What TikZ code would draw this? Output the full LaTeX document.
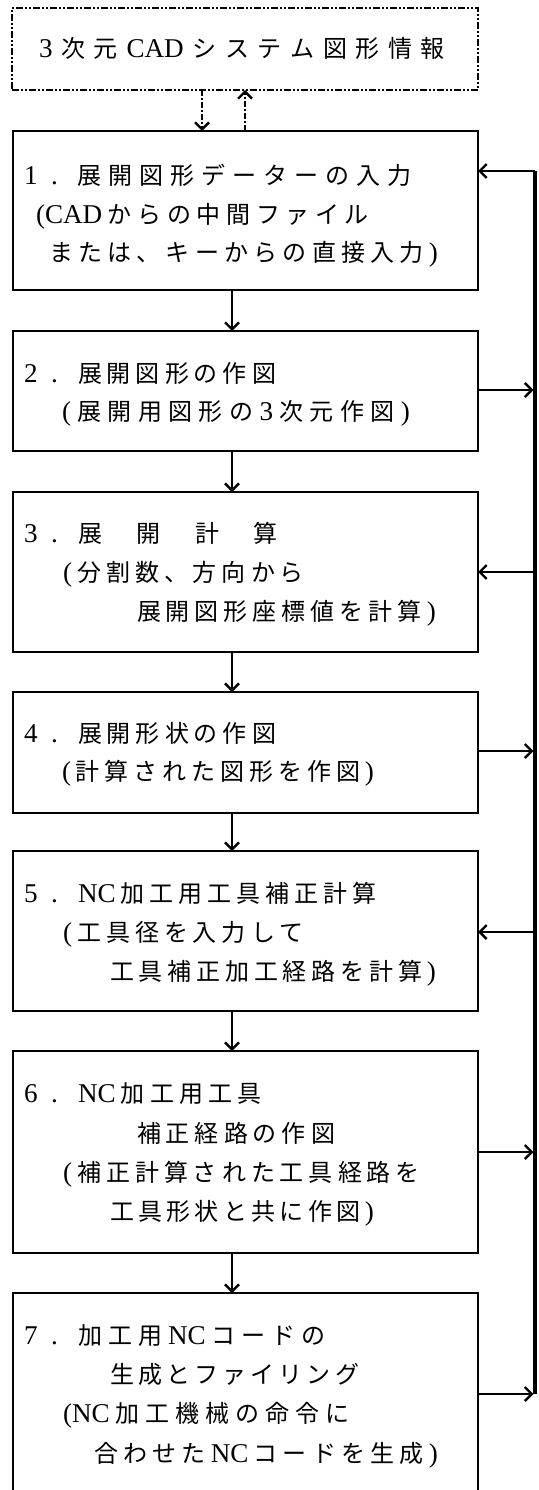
\documentclass[tikz,border=0pt]{standalone}
\usepackage{fontspec}
\setmainfont{Noto Sans CJK JP}
\newfontfamily\latf[Scale=1.13]{Liberation Serif}
\usetikzlibrary{arrows.meta}
\let\spreadend\relax
\def\spreadstop{\spreadend}
\def\spreadA#1{\def\spreadtmp{#1}\ifx\spreadtmp\spreadstop\else{#1}\hfil\expandafter\spreadA\fi}
\newcommand\spreadto[2]{\hbox to #1{\spreadA#2\spreadend\unskip}}
\tikzset{
 pbox/.style={draw, line width=2.8pt, inner sep=0pt, outer sep=0pt, anchor=north west, minimum width=465pt},
 dbox/.style={draw, line width=2.2pt, dash pattern=on 7pt off 2pt on 2pt off 2pt on 2pt off 2pt, inner sep=0pt, outer sep=0pt, anchor=north west},
 txt/.style={inner sep=0pt, outer sep=0pt, anchor=base west, font=\fontsize{24pt}{28pt}\selectfont},
 arr/.style={line width=2.4pt, -{Straight Barb[length=7pt,width=14pt]}},
 darr/.style={arr, dash pattern=on 6pt off 2pt on 2pt off 2pt},
 bus/.style={line width=3.2pt},
}
\begin{document}
\begin{tikzpicture}[x=1pt,y=-1pt]
\useasboundingbox (0,0) rectangle (538,1490);
% boxes
\node[dbox, minimum width=466pt, minimum height=82pt] (cad) at (12,8) {};
\node[pbox, minimum height=159pt] (b1) at (13,131) {};
\node[pbox, minimum height=120pt] (b2) at (13,331) {};
\node[pbox, minimum height=160pt] (b3) at (13,492) {};
\node[pbox, minimum height=121pt] (b4) at (13,692) {};
\node[pbox, minimum height=160pt] (b5) at (13,851) {};
\node[pbox, minimum height=202pt] (b6) at (13,1051) {};
\node[pbox, minimum height=212pt] (b7) at (13,1293) {};
% texts
\node[txt] (t0) at (39,58) {\spreadto{406pt}{{\latf 3}次元{\latf CAD}システム図形情報}};
\node[txt] (n1) at (24,185) {\spreadto{34pt}{{\latf 1}{\latf .}}};
\node[txt] (t11) at (77,185) {\spreadto{335pt}{展開図形データーの入力}};
\node[txt] (t12) at (36,223) {\spreadto{333pt}{{\latf (CAD}からの中間ファイル}};
\node[txt] (t13) at (49,261) {\spreadto{389pt}{または、キーからの直接入力{\latf )}}};
\node[txt] (n2) at (24,382) {\spreadto{34pt}{{\latf 2}{\latf .}}};
\node[txt] (t21) at (78,382) {\spreadto{198pt}{展開図形の作図}};
\node[txt] (t22) at (62,420) {\spreadto{348pt}{{\latf (}展開用図形の{\latf 3}次元作図{\latf )}}};
\node[txt] (n3) at (24,542) {\spreadto{34pt}{{\latf 3}{\latf .}}};
\node[txt] (t31) at (78,542) {\spreadto{200pt}{展開計算}};
\node[txt] (t32) at (63,581) {\spreadto{241pt}{{\latf (}分割数、方向から}};
\node[txt] (t33) at (137,620) {\spreadto{299pt}{展開図形座標値を計算{\latf )}}};
\node[txt] (n4) at (24,742) {\spreadto{34pt}{{\latf 4}{\latf .}}};
\node[txt] (t41) at (78,742) {\spreadto{198pt}{展開形状の作図}};
\node[txt] (t42) at (62,780) {\spreadto{312pt}{{\latf (}計算された図形を作図{\latf )}}};
\node[txt] (n5) at (24,902) {\spreadto{34pt}{{\latf 5}{\latf .}}};
\node[txt] (t51) at (78,902) {\spreadto{299pt}{{\latf NC}加工用工具補正計算}};
\node[txt] (t52) at (63,941) {\spreadto{241pt}{{\latf (}工具径を入力して}};
\node[txt] (t53) at (110,980) {\spreadto{326pt}{工具補正加工経路を計算{\latf )}}};
\node[txt] (n6) at (24,1102) {\spreadto{34pt}{{\latf 6}{\latf .}}};
\node[txt] (t61) at (78,1102) {\spreadto{184pt}{{\latf NC}加工用工具}};
\node[txt] (t62) at (137,1142) {\spreadto{198pt}{補正経路の作図}};
\node[txt] (t63) at (63,1181) {\spreadto{357pt}{{\latf (}補正計算された工具経路を}};
\node[txt] (t64) at (110,1220) {\spreadto{264pt}{工具形状と共に作図{\latf )}}};
\node[txt] (n7) at (24,1344) {\spreadto{34pt}{{\latf 7}{\latf .}}};
\node[txt] (t71) at (78,1344) {\spreadto{248pt}{加工用{\latf NC}コードの}};
\node[txt] (t72) at (110,1383) {\spreadto{249pt}{生成とファイリング}};
\node[txt] (t73) at (63,1422) {\spreadto{287pt}{{\latf (NC}加工機械の命令に}};
\node[txt] (t74) at (94,1462) {\spreadto{344pt}{合わせた{\latf NC}コードを生成{\latf )}}};
% connectors
\coordinate (dx1) at (202,0);
\coordinate (dx2) at (245,0);
\coordinate (vx) at (232,0);
\draw[darr] (cad.south -| dx1) -- (b1.north -| dx1);
\draw[darr] (b1.north -| dx2) -- (cad.south -| dx2);
\draw[arr] (b1.south -| vx) -- (b2.north -| vx);
\draw[arr] (b2.south -| vx) -- (b3.north -| vx);
\draw[arr] (b3.south -| vx) -- (b4.north -| vx);
\draw[arr] (b4.south -| vx) -- (b5.north -| vx);
\draw[arr] (b5.south -| vx) -- (b6.north -| vx);
\draw[arr] (b6.south -| vx) -- (b7.north -| vx);
\coordinate (r1) at (535,171);
\coordinate (r2) at (535,390);
\coordinate (r3) at (535,572);
\coordinate (r4) at (535,751);
\coordinate (r5) at (535,932);
\coordinate (r6) at (535,1152);
\coordinate (r7) at (535,1394);
\draw[bus] (r1) -- (r7);
\draw[arr] (r1) -- (r1 -| b1.east);
\draw[arr, shorten >=1.5pt] (r2 -| b2.east) -- (r2);
\draw[arr] (r3) -- (r3 -| b3.east);
\draw[arr, shorten >=1.5pt] (r4 -| b4.east) -- (r4);
\draw[arr] (r5) -- (r5 -| b5.east);
\draw[arr, shorten >=1.5pt] (r6 -| b6.east) -- (r6);
\draw[arr, shorten >=1.5pt] (r7 -| b7.east) -- (r7);
\end{tikzpicture}
\end{document}
